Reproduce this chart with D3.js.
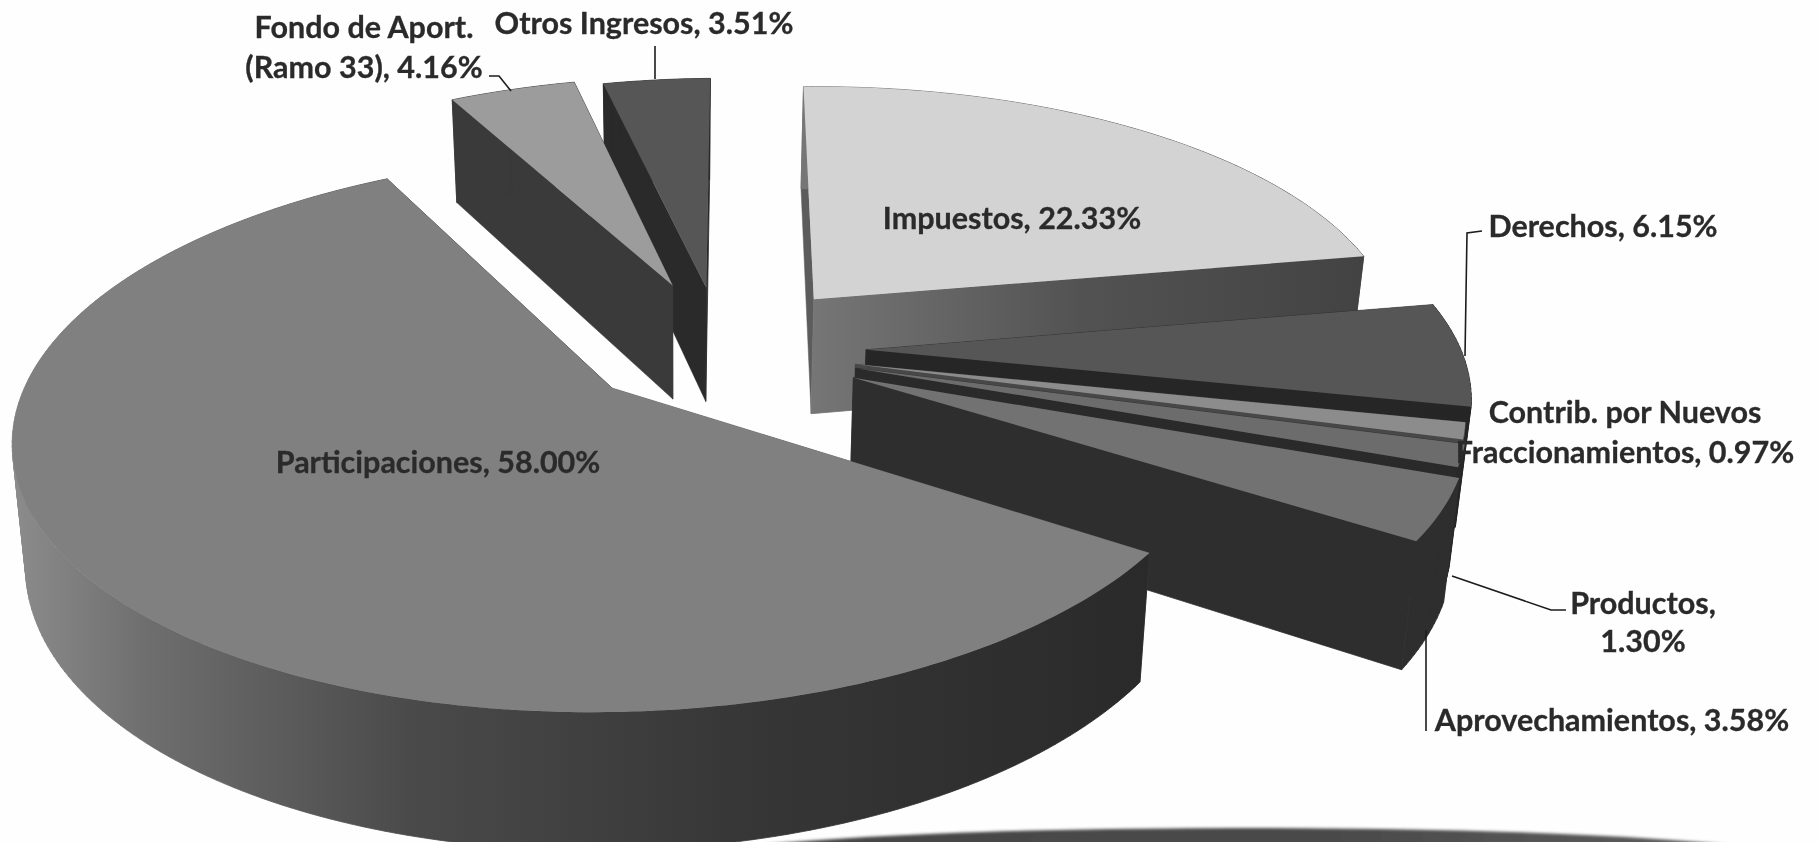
<!DOCTYPE html>
<html><head><meta charset="utf-8">
<script src="https://cdn.jsdelivr.net/npm/d3@7/dist/d3.min.js"></script>
<style>html,body{margin:0;padding:0;background:#fefefe;overflow:hidden}</style>
</head><body><svg id="c" width="1818" height="842"></svg>
<script>
// ---- data (clockwise from the top of the pie)
const categories = ["Impuestos","Derechos","Contrib. por Nuevos Fraccionamientos","Productos","Aprovechamientos","Participaciones","Fondo de Aport. (Ramo 33)","Otros Ingresos"];
const values = [22.33,6.15,0.97,1.30,3.58,58.00,4.16,3.51];
// ---- slice styling
const explodeU = [.345,.43,.41,.41,.405,0,.095,.155];
const explodeV = [-.34,-.14,-.085,-.07,-.035,0,-.40,-.39];
const faceCol = ["#d3d3d3","#565656","#8c8c8c","#6c6c6c","#727272","#808080","#9c9c9c","#565656"];
const wallCol = ["url(#gImp)","#262626","#484848","#2a2a2a","#2e2e2e","url(#gPar)","#3a3a3a","#2a2a2a"];
const sideCol = ["#5c5c5c","#262626","#484848","#2a2a2a","#2e2e2e","#555555","#3a3a3a","#2a2a2a"];
const drawOrder = [7,6,0,1,2,3,4,5];
// ---- label text
const fmt = v => d3.format(".2f")(v) + "%";
const labelTexts = [
  ["Impuestos, "+fmt(values[0])],
  ["Derechos, "+fmt(values[1])],
  ["Contrib. por Nuevos","Fraccionamientos, "+fmt(values[2])],
  ["Productos,",fmt(values[3])],
  ["Aprovechamientos, "+fmt(values[4])],
  ["Participaciones, "+fmt(values[5])],
  ["Fondo de Aport.","(Ramo 33), "+fmt(values[6])],
  ["Otros Ingresos, "+fmt(values[7])]
];
// centre x, first baseline, line gap
const labelPos = [[1012,229,0],[1603,237,0],[1625,423,40],[1643,614,38],[1612,731,0],[438,473,0],[364,38,40],[644,34,0]];
const leaders = [null,[[1465,356],[1467,233],[1482,231]],null,[[1452,576],[1551,610],[1566,610]],[[1426,630],[1426,731]],null,[[511,91],[499,76],[489,76]],[[655,46],[655,79]]];

// ---- projection
const P = {x0:612,y0:388,A:595,B:-20,D:-2,E:272,G:-.011,H:-.161};
function project(u,v){const w=1+P.G*u+P.H*v;return [P.x0+(P.A*u+P.B*v)/w,P.y0+(P.D*u+P.E*v)/w];}
// extrusion of a top point to the base of the pie
function base(p){return [680+(p[0]-680)*.98,p[1]*1.058+97];}

const svg=d3.select("#c");
const defs=svg.append("defs");
function grad(id,x1,x2,stops){
  const g=defs.append("linearGradient").attr("id",id).attr("gradientUnits","userSpaceOnUse").attr("x1",x1).attr("x2",x2).attr("y1",0).attr("y2",0);
  stops.forEach(s=>g.append("stop").attr("offset",s[0]).attr("stop-color",s[1]));
}
grad("gPar",12,1150,[[0,"#8c8c8c"],[.12,"#6e6e6e"],[.35,"#4a4a4a"],[.65,"#363636"],[1,"#2a2a2a"]]);
grad("gImp",810,1360,[[0,"#767676"],[.5,"#525252"],[1,"#434343"]]);
grad("gShadow",790,1700,[[0,"#454545"],[.6,"#4a4a4a"],[1,"#5c5c5c"]]);
defs.append("filter").attr("id","blur").attr("x","-10%").attr("y","-50%").attr("width","120%").attr("height","200%")
  .append("feGaussianBlur").attr("stdDeviation",1.5);
defs.append("filter").attr("id","soft").append("feGaussianBlur").attr("stdDeviation",.35);

svg.append("ellipse").attr("cx",1246).attr("cy",862).attr("rx",560).attr("ry",34).attr("fill","url(#gShadow)").attr("filter","url(#blur)");

const arcs=d3.pie().sort(null).startAngle(0).endAngle(2*Math.PI)(values);
const line=d3.line();
const step=Math.PI/180;
// ribbon between two polylines as consistently wound quads, so that folds stay filled
function ribbon(a,b){
  return d3.range(a.length-1).map(k=>{
    const q=[a[k],a[k+1],b[k+1],b[k]];
    return line(d3.polygonArea(q)<0?q.slice().reverse():q)+"Z";
  }).join("");
}
drawOrder.forEach(i=>{
  const a=arcs[i],du=explodeU[i],dv=explodeV[i];
  const pt=t=>project(du+Math.sin(t),dv-Math.cos(t));
  const apex=project(du,dv);
  const n=Math.max(2,Math.ceil((a.endAngle-a.startAngle)/step));
  const top=d3.range(n+1).map(k=>pt(a.startAngle+(a.endAngle-a.startAngle)*k/n));
  const bot=top.map(base);
  const g=svg.append("g").attr("class","slice").attr("data-name",categories[i]);
  const s=top[0],e=top[n];
  // radial walls
  g.append("path").attr("d",line([s,apex,base(apex),base(s)])+"Z").attr("fill",sideCol[i]).attr("stroke",sideCol[i]).attr("stroke-width",.5);
  g.append("path").attr("d",line([apex,e,base(e),base(apex)])+"Z").attr("fill",wallCol[i]).attr("stroke",wallCol[i]).attr("stroke-width",.8);
  // outer wall
  g.append("path").attr("d",ribbon(top,bot)).attr("fill",wallCol[i]).attr("stroke",wallCol[i]).attr("stroke-width",.8);
  // top face
  g.append("path").attr("d",line([apex].concat(top))+"Z").attr("fill",faceCol[i]);
});

// leaders
svg.append("g").selectAll("path").data(leaders.filter(d=>d)).join("path")
  .attr("d",d=>line(d)).attr("fill","none").attr("stroke","#1c1c1c").attr("stroke-width",1.6);
// labels
const lab=svg.append("g").attr("font-family","Lato, 'Open Sans', sans-serif").attr("font-weight",700).attr("font-size",30.5).attr("fill","#2b2b2b").attr("stroke","#2b2b2b").attr("stroke-width",.3).attr("text-anchor","middle").attr("filter","url(#soft)");
labelTexts.forEach((lines,i)=>{
  lines.forEach((t,k)=>{
    lab.append("text").attr("x",labelPos[i][0]).attr("y",labelPos[i][1]+k*labelPos[i][2]).text(t);
  });
});
</script></body></html>
